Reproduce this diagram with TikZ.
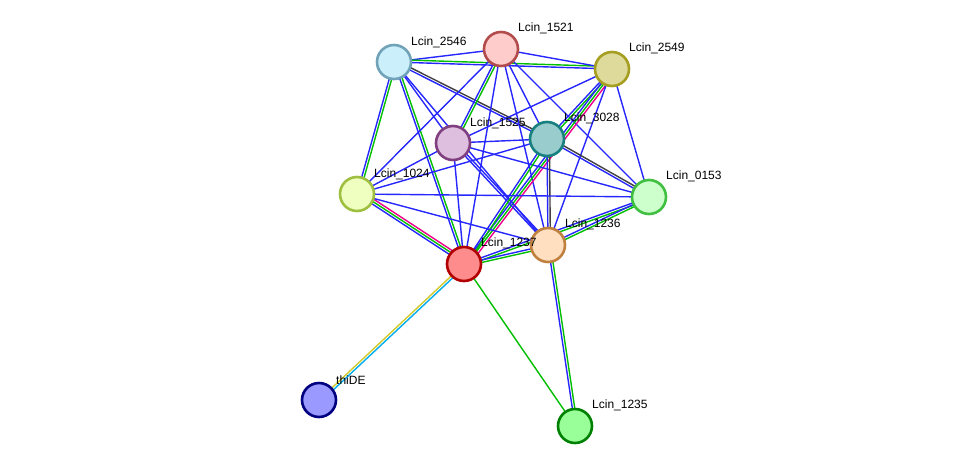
\documentclass[tikz,border=0pt]{standalone}
\usepackage{fontspec}
\setmainfont{Liberation Sans}
\usetikzlibrary{calc}
\begin{document}
\begin{tikzpicture}[x=1pt,y=-1pt,
  prot/.style={circle,draw,line width=2.6pt,minimum size=34pt,inner sep=0pt},
  lab/.style={font=\fontsize{12}{13}\selectfont,anchor=south west,inner sep=1pt},
  e/.style={line width=1.4pt}]
\useasboundingbox (0,0) rectangle (975,472);
\newcommand\ed[3]{%
  \def\cnt{0}%
  \foreach \c [count=\i] in {#3}{%
    \pgfmathsetmacro\off{(\i-1)*2.4}%
    \draw[e,\c] ($(#1)!\off pt!90:(#2)$) -- ($(#2)!\off pt!-90:(#1)$);}%
}
\coordinate (p2546) at (394,62);
\coordinate (p1521) at (501,49);
\coordinate (p2549) at (612,69);
\coordinate (p1525) at (453,143);
\coordinate (p3028) at (547,139);
\coordinate (p1024) at (357,194);
\coordinate (p0153) at (649,197);
\coordinate (p1236) at (548,245);
\coordinate (p1237) at (464,264);
\coordinate (pthi) at (319,400);
\coordinate (p1235) at (575,426);
\colorlet{eb}{blue!85!white}
\colorlet{eg}{green!75!black}
\colorlet{ek}{black!75}
\ed{p2546}{p1521}{eb}
\ed{p2546}{p2549}{eb,eg}
\ed{p2546}{p1525}{eb}
\ed{p2546}{p3028}{eb,ek}
\ed{p2546}{p1024}{eb,eg}
\ed{p2546}{p1237}{eb,eg}
\ed{p2546}{p1236}{eb}
\ed{p1521}{p2549}{eb}
\ed{p1521}{p1525}{eb,eg}
\ed{p1521}{p1024}{eb}
\ed{p1521}{p1237}{eb}
\ed{p1521}{p1236}{eb}
\ed{p1521}{p3028}{eb}
\ed{p1521}{p0153}{eb}
\ed{p2549}{p1525}{eb}
\ed{p2549}{p3028}{eb,eg}
\ed{p2549}{p1237}{eb,eg,magenta}
\ed{p2549}{p1236}{eb}
\ed{p2549}{p0153}{eb}
\ed{p1525}{p3028}{eb}
\ed{p1525}{p1024}{eb}
\ed{p1525}{p0153}{eb}
\ed{p1525}{p1236}{eb,eb}
\ed{p1525}{p1237}{eb}
\ed{p3028}{p1024}{eb}
\ed{p3028}{p1237}{eb,eg}
\ed{p3028}{p1236}{eb,ek}
\ed{p3028}{p0153}{eb,ek}
\ed{p1024}{p0153}{eb}
\ed{p1024}{p1237}{eb,eg,magenta}
\ed{p1024}{p1236}{eb}
\ed{p0153}{p1237}{eb,eg}
\ed{p0153}{p1236}{eb,eg}
\ed{p1236}{p1237}{eb,eg}
\ed{p1236}{p1235}{eb,eg}
\ed{p1237}{pthi}{yellow!80!black,cyan}
\ed{p1237}{p1235}{eg}
\node[prot,fill=cyan!20,draw=cyan!40!gray] (n2546) at (p2546) {};
\node[prot,fill=red!20,draw=red!40!gray] (n1521) at (p1521) {};
\node[prot,fill=yellow!50!gray!60,draw=olive!80] (n2549) at (p2549) {};
\node[prot,fill=violet!25,draw=violet!50!gray] (n1525) at (p1525) {};
\node[prot,fill=teal!40,draw=teal!80!gray] (n3028) at (p3028) {};
\node[prot,fill=lime!25,draw=lime!50!gray] (n1024) at (p1024) {};
\node[prot,fill=green!20,draw=green!50!gray] (n0153) at (p0153) {};
\node[prot,fill=orange!25,draw=orange!50!gray] (n1236) at (p1236) {};
\node[prot,fill=red!45,draw=red!70!black] (n1237) at (p1237) {};
\node[prot,fill=blue!40!white,draw=blue!50!black] (nthi) at (pthi) {};
\node[prot,fill=green!40,draw=green!50!black] (n1235) at (p1235) {};
\node[lab] at (410,49) {Lcin\_2546};
\node[lab] at (517,35) {Lcin\_1521};
\node[lab] at (628,55) {Lcin\_2549};
\node[lab] at (469,130) {Lcin\_1525};
\node[lab] at (563,125) {Lcin\_3028};
\node[lab] at (373,181) {Lcin\_1024};
\node[lab] at (665,183) {Lcin\_0153};
\node[lab] at (564,231) {Lcin\_1236};
\node[lab] at (480,250) {Lcin\_1237};
\node[lab] at (335,386) {thiDE};
\node[lab] at (591,412) {Lcin\_1235};
\end{tikzpicture}
\end{document}
